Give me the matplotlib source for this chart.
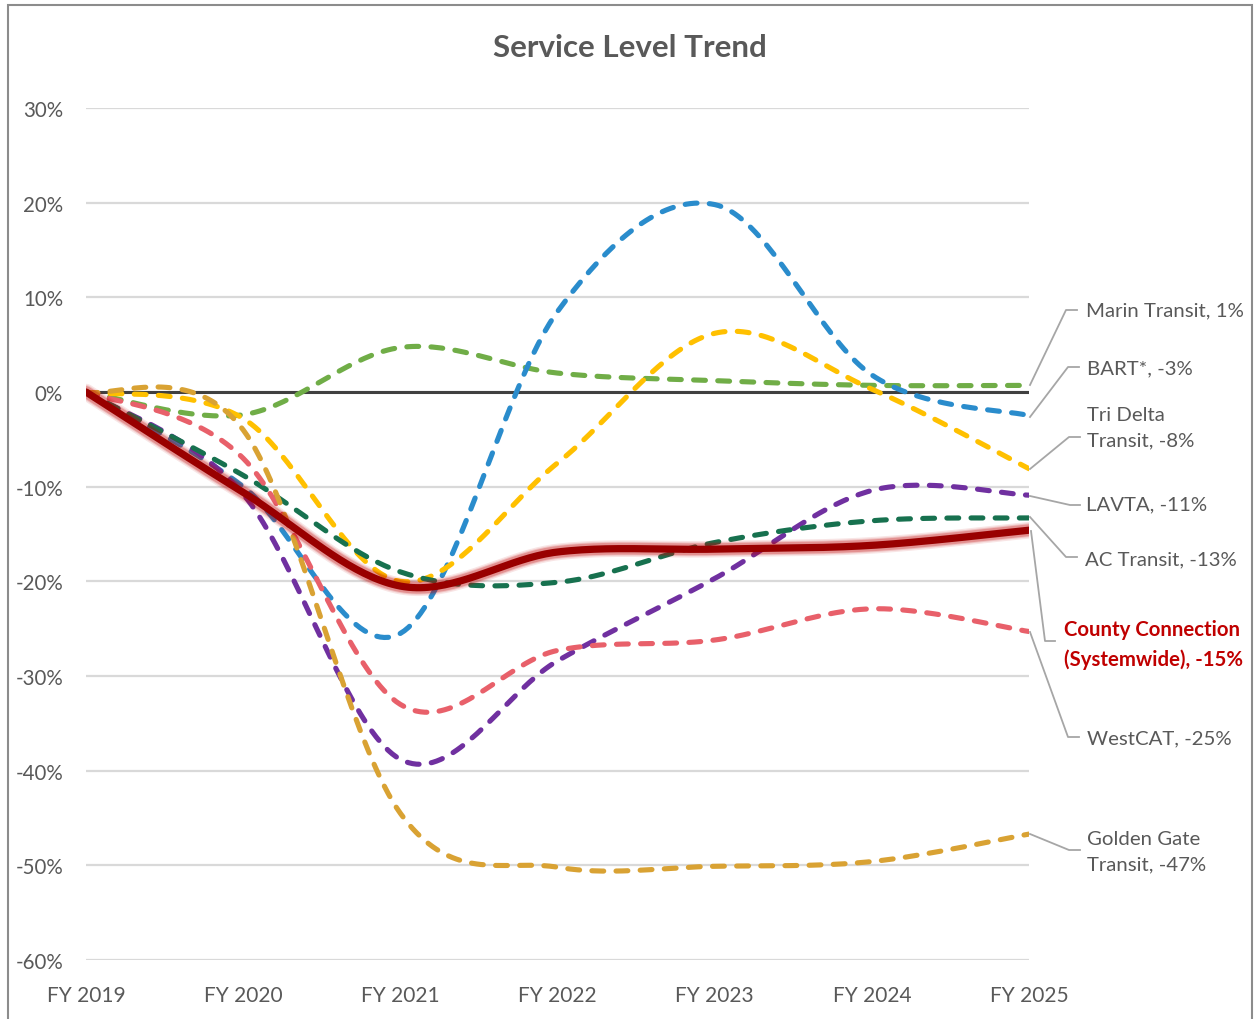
import numpy as np
import matplotlib
matplotlib.use("Agg")
import matplotlib.pyplot as plt
from matplotlib.patches import Rectangle
from matplotlib.lines import Line2D

years = ["FY 2019", "FY 2020", "FY 2021", "FY 2022", "FY 2023", "FY 2024", "FY 2025"]

marin = [0.0, -2.4, 4.7, 2.0, 1.2, 0.7, 0.7]
bart = [0.0, -10.0, -25.5, 8.5, 19.8, 1.8, -2.5]
tri_delta = [0.0, -2.8, -20.0, -7.5, 6.2, 0.3, -8.1]
lavta = [0.0, -10.8, -38.8, -28.4, -19.7, -10.4, -10.9]
ac_transit = [0.0, -8.8, -19.0, -20.1, -15.9, -13.6, -13.3]
westcat = [0.0, -7.0, -33.0, -27.3, -26.2, -22.9, -25.3]
golden_gate = [0.0, -4.0, -44.5, -50.2, -50.1, -49.6, -46.7]
county = [0.0, -10.6, -20.5, -16.9, -16.6, -16.2, -14.6]

labels = ["Marin Transit, 1%", "BART*, -3%", "Tri Delta\nTransit, -8%", "LAVTA, -11%",
          "AC Transit, -13%", "County Connection\n(Systemwide), -15%", "WestCAT, -25%",
          "Golden Gate\nTransit, -47%"]

FONT = "Lato"
GRAY = "#595959"


def smooth(vals, n=40):
    """Excel-like smoothed line: Catmull-Rom Bezier through the data points."""
    p = np.asarray(vals, float) / 100.0
    x = np.arange(len(p), dtype=float)
    xs, ys = [], []
    for i in range(len(p) - 1):
        im1 = max(i - 1, 0)
        ip2 = min(i + 2, len(p) - 1)
        p0 = np.array([x[i], p[i]])
        p3 = np.array([x[i + 1], p[i + 1]])
        c1 = p0 + (np.array([x[i + 1], p[i + 1]]) - np.array([x[im1], p[im1]])) / 6.0
        c2 = p3 - (np.array([x[ip2], p[ip2]]) - np.array([x[i], p[i]])) / 6.0
        t = np.linspace(0, 1, n)[:, None]
        b = (1 - t) ** 3 * p0 + 3 * (1 - t) ** 2 * t * c1 + 3 * (1 - t) * t ** 2 * c2 + t ** 3 * p3
        if i > 0:
            b = b[1:]
        xs.append(b[:, 0]); ys.append(b[:, 1])
    return np.concatenate(xs), np.concatenate(ys)


fig = plt.figure(figsize=(12.57, 10.20), dpi=100)
ax = fig.add_axes([86 / 1257, 1 - 961 / 1020, (1029 - 86) / 1257, (961 - 109) / 1020])
ax.set_xlim(0, 6)
ax.set_ylim(-0.6, 0.3)

for s in ax.spines.values():
    s.set_visible(False)
ax.set_yticks(np.arange(-0.6, 0.31, 0.1))
ax.set_yticklabels([f"{int(round(v*100))}%" for v in np.arange(-0.6, 0.31, 0.1)],
                   fontsize=14.8, color=GRAY, family=FONT)
ax.set_xticks(range(7))
ax.set_xticklabels(years, fontsize=15, color=GRAY, family=FONT)
ax.tick_params(length=0)
ax.tick_params(axis="y", pad=16.5)
ax.tick_params(axis="x", pad=18)
ax.grid(axis="y", color="#d9d9d9", lw=1.6)
ax.set_axisbelow(True)
ax.axhline(0, color="#404040", lw=2.2, zorder=2)

series = [
    (marin, "#70ad47"),
    (bart, "#2a8ccc"),
    (tri_delta, "#ffc000"),
    (lavta, "#7030a0"),
    (ac_transit, "#17714f"),
    (westcat, "#e8606a"),
    (golden_gate, "#d9a233"),
]
for vals, col in series:
    xs, ys = smooth(vals)
    ln, = ax.plot(xs, ys, color=col, lw=3.7, zorder=3, dash_capstyle="round")
    ln.set_dashes([2.3, 2.4])

xs, ys = smooth(county)
for w, a in [(12, 0.10), (10, 0.15), (8.5, 0.25)]:
    ax.plot(xs, ys, color="#c00000", lw=w, alpha=a, zorder=4, solid_capstyle="round")
ax.plot(xs, ys, color="#990000", lw=5.2, zorder=5, solid_capstyle="round")


def fx(px):
    return px / 1257


def fy(py):
    return 1 - py / 1020


leaders = [
    ([(1030, 386), (1066, 311), (1077, 311)], (1086, 311), labels[0], GRAY, "normal"),
    ([(1030, 418), (1068, 368), (1079, 368)], (1087, 369), labels[1], GRAY, "normal"),
    ([(1030, 470), (1069, 438), (1080, 438)], (1087, 428), labels[2], GRAY, "normal"),
    ([(1030, 497), (1070, 506), (1080, 506)], (1086, 505), labels[3], GRAY, "normal"),
    ([(1030, 518), (1066, 558), (1077, 558)], (1085, 560), labels[4], GRAY, "normal"),
    ([(1031, 532), (1045, 642), (1055, 642)], (1064, 645), labels[5], "#c00000", "bold"),
    ([(1030, 633), (1068, 738), (1079, 738)], (1087, 739), labels[6], GRAY, "normal"),
    ([(1030, 835), (1069, 851), (1080, 851)], (1087, 852), labels[7], GRAY, "normal"),
]
for pts, (tx, ty), txt, col, wt in leaders:
    fig.add_artist(Line2D([fx(p[0]) for p in pts], [fy(p[1]) for p in pts],
                          color="#a6a6a6", lw=1.3))
    fig.text(fx(tx), fy(ty), txt, ha="left", va="center", fontsize=14.7,
             color=col, fontweight=wt, family=FONT, linespacing=1.6)

fig.text(630 / 1257, fy(48), "Service Level Trend", ha="center", va="center",
         fontsize=22.5, fontweight="bold", color=GRAY, family=FONT)

fig.add_artist(Rectangle((fx(8), fy(1030)), fx(1252 - 8), (1030 - 6) / 1020,
                         fill=False, edgecolor="#8c8c8c", lw=1.5))

fig.savefig("out.png", dpi=100, facecolor="white")
